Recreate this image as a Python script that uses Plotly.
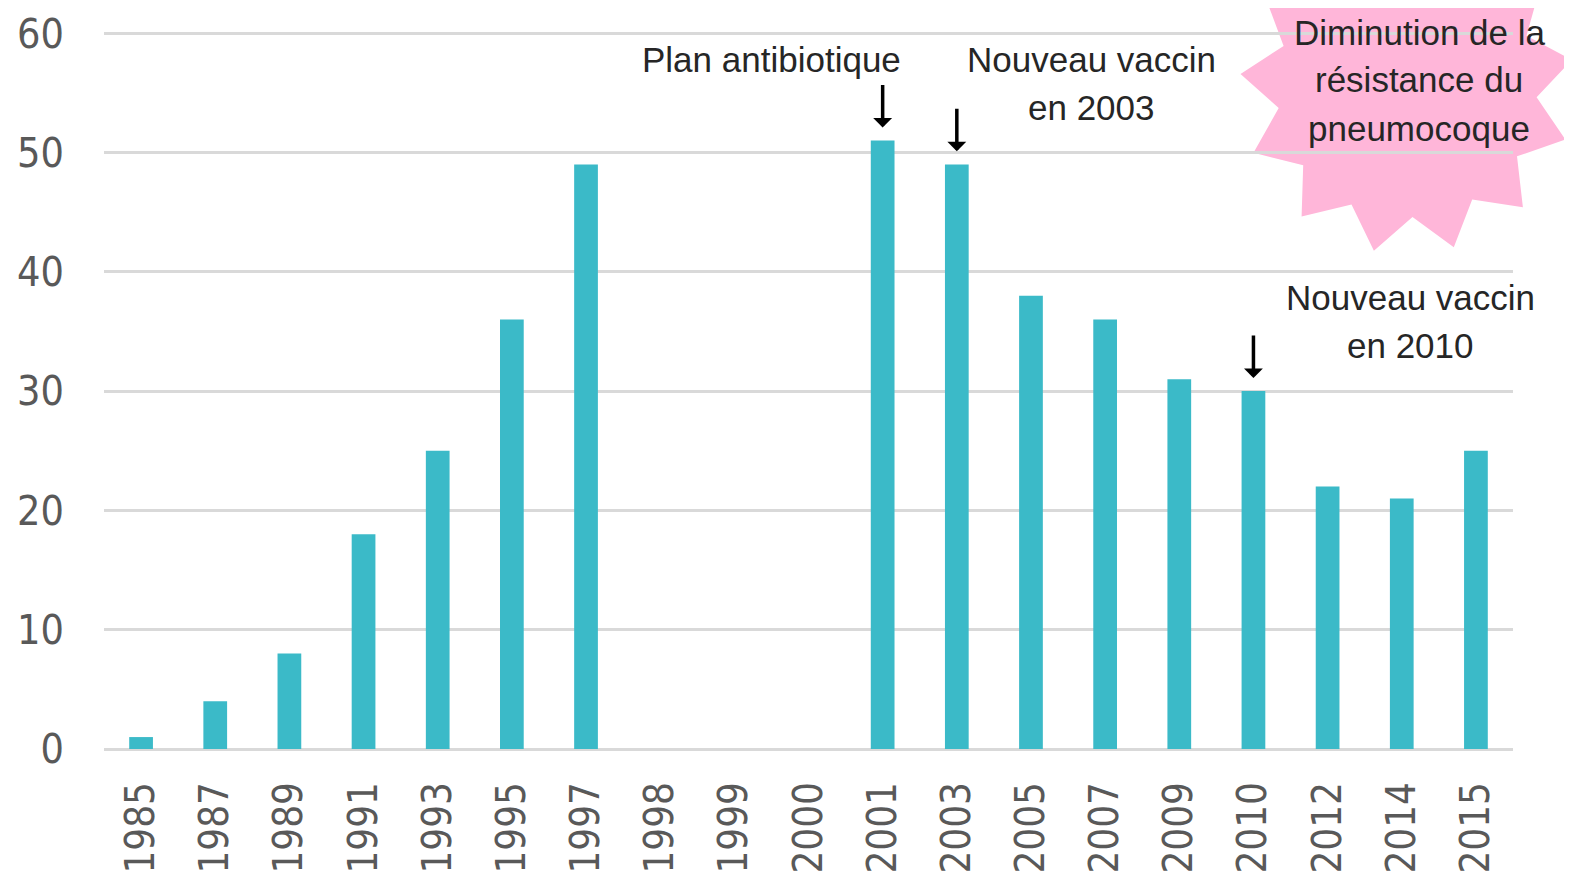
import math
import plotly.graph_objects as go

# ---- data ----
years = ["1985", "1987", "1989", "1991", "1993", "1995", "1997", "1998", "1999",
         "2000", "2001", "2003", "2005", "2007", "2009", "2010", "2012", "2014", "2015"]
values = [1, 4, 8, 18, 25, 36, 49, None, None, None, 51, 49, 38, 36, 31, 30, 22, 21, 25]
y_ticks = [0, 10, 20, 30, 40, 50, 60]
arrow_years = ["2001", "2003", "2010"]

# ---- geometry: the page body has an 8px margin, so the figure starts at (8, 8) ----
OFF = 8
W, H = 1572 - OFF, 878 - OFF
ML, MR, MT, MB = 96, 59, 24, 129
PW, PH = W - ML - MR, H - MT - MB


def px(x_screen):
    return (x_screen - OFF - ML) / PW


def py(y_screen):
    return (H - MB - (y_screen - OFF)) / PH


BAR = "#3bbac8"
GRID = "#d9d9d9"
TXT = "#262626"
TICK = "#595959"
ANN_FONT = dict(family="Liberation Sans, Arial, sans-serif", size=35, color=TXT)
TICK_FONT_FAMILY = "DejaVu Sans Condensed, DejaVu Sans"

fig = go.Figure()
fig.add_trace(go.Bar(x=years, y=values, marker=dict(color=BAR, line=dict(width=0)),
                     hoverinfo="x+y"))

annotations = []
# arrows pointing at the event bars (x given as category index)
for yr in arrow_years:
    i = years.index(yr)
    annotations.append(dict(x=i, y=values[i] + 1.1, xref="x", yref="y", text="",
                            showarrow=True, ax=0, ay=-44, arrowhead=1, arrowsize=0.9,
                            arrowwidth=3.5, arrowcolor="black", standoff=0))


def label(text, x, y):
    annotations.append(dict(x=px(x), y=py(y), xref="paper", yref="paper", text=text,
                            showarrow=False, xanchor="center", yanchor="middle",
                            font=ANN_FONT))


label("Plan antibiotique", 771, 60)
label("Nouveau vaccin", 1091, 60)
label("en 2003", 1091, 107)
label("Nouveau vaccin", 1410, 297)
label("en 2010", 1410, 345)
label("Diminution de la", 1419, 32)
label("résistance du", 1419, 80)
label("pneumocoque", 1419, 128)

# starburst
n_pts, r_out, r_in, a0 = 13, 167, 130, 175.5
pts = []
for k in range(2 * n_pts):
    r = r_out if k % 2 == 0 else r_in
    a = math.radians(a0 + k * 180.0 / n_pts)
    pts.append((r * math.cos(a), r * math.sin(a)))
path = "M" + " L".join(f"{x:.1f},{y:.1f}" for x, y in pts) + " Z"

fig.add_shape(type="path", path=path, xref="paper", yref="paper",
              xsizemode="pixel", ysizemode="pixel", xanchor=px(1407), yanchor=py(87),
              fillcolor="rgb(255,182,217)", line=dict(width=0), layer="below")

fig.update_layout(
    width=W, height=H,
    margin=dict(l=ML, r=MR, t=MT, b=MB, autoexpand=False),
    paper_bgcolor="white", plot_bgcolor="rgba(0,0,0,0)",
    bargap=0.68, showlegend=False,
    annotations=annotations,
    xaxis=dict(type="category", categoryorder="array", categoryarray=years,
               range=[-0.5, len(years) - 0.5], autorange=False,
               tickangle=-90, showgrid=False, showline=False,
               ticks="", ticklabelstandoff=24, automargin=False,
               tickfont=dict(family=TICK_FONT_FAMILY, size=40, color=TICK)),
    yaxis=dict(range=[0, 60.1], autorange=False, tickvals=y_ticks, showgrid=True,
               gridcolor=GRID, gridwidth=3,
               zeroline=True, zerolinecolor=GRID, zerolinewidth=3, showline=False,
               ticks="", ticklabelstandoff=39, automargin=False,
               tickfont=dict(family=TICK_FONT_FAMILY, size=41, color=TICK)),
)

fig.write_html("out.html")
